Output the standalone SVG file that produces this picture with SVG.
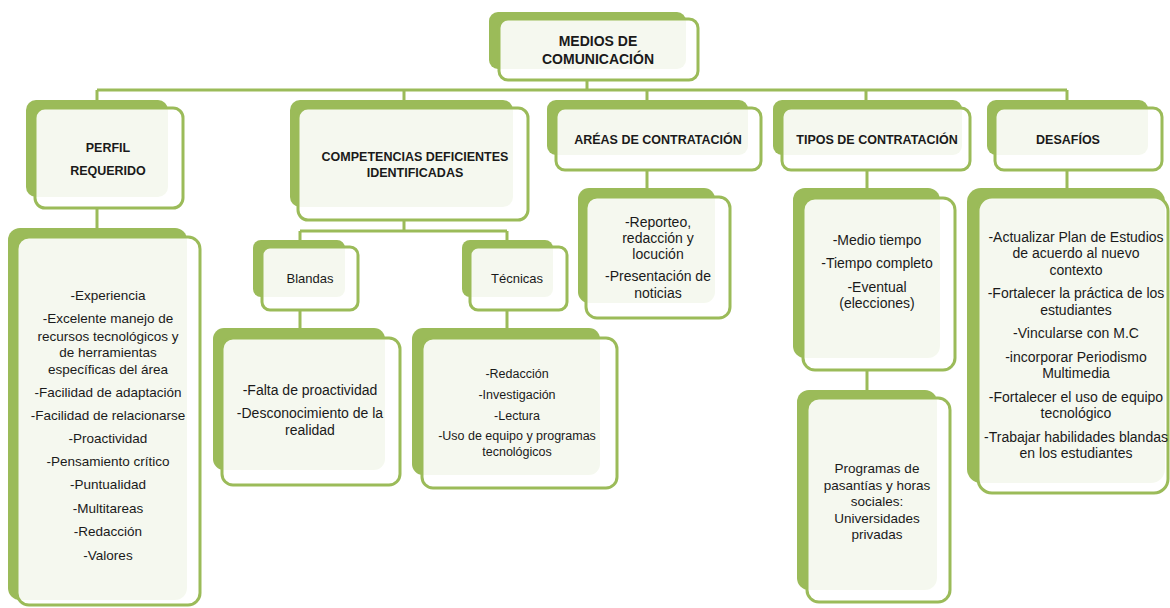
<svg xmlns="http://www.w3.org/2000/svg" width="1170" height="608" viewBox="0 0 1170 608">
<style>
.back{fill:#9bbb59}
.front{fill:#ffffff;fill-opacity:0.9;stroke:#9bbb59;stroke-width:3}
.con{stroke:#9bbb59;stroke-width:3;fill:none}
text{font-family:"Liberation Sans",Arial,sans-serif;fill:#1a1a1a;text-anchor:middle}
.h{font-weight:bold;font-size:12.5px}
.b{font-size:14px}
</style>
<rect width="1170" height="608" fill="#ffffff"/>
<g id="connectors">
<path class="con" d="M587 80V90M97 90H1067M97 90V108M404 90V108M647 90V108M866 90V108M1067 90V108"/>
<path class="con" d="M97 208V237"/>
<path class="con" d="M404 220V231M300 231H507M300 231V247M507 231V247M300 310V338M507 310V338"/>
<path class="con" d="M647 170V197M867 170V198M867 370V398M1067 170V197"/>
</g>
<g id="medios">
<rect class="back" x="489" y="12" width="197" height="57" rx="9"/>
<rect class="front" x="499" y="19" width="199" height="61" rx="9"/>
<text style="font-weight:bold;font-size:14px" x="598" y="46">MEDIOS DE</text>
<text style="font-weight:bold;font-size:14px" x="598" y="64">COMUNICACIÓN</text>
</g>
<g id="perfil">
<rect class="back" x="26" y="100" width="142" height="97" rx="10"/>
<rect class="front" x="35" y="108" width="148" height="100" rx="10"/>
<text class="h" x="108" y="152">PERFIL</text>
<text class="h" x="108" y="175">REQUERIDO</text>
</g>
<g id="perfil-detalle">
<rect class="back" x="8" y="228" width="179" height="372" rx="12"/>
<rect class="front" x="17" y="237" width="183" height="368" rx="12"/>
<g style="font-size:13.5px">
<text x="108" y="300">-Experiencia</text>
<text x="108" y="323">-Excelente manejo de</text>
<text x="108" y="341">recursos tecnológicos y</text>
<text x="108" y="357">de herramientas</text>
<text x="108" y="374">específicas del área</text>
<text x="108" y="397">-Facilidad de adaptación</text>
<text x="108" y="420">-Facilidad de relacionarse</text>
<text x="108" y="443">-Proactividad</text>
<text x="108" y="466">-Pensamiento crítico</text>
<text x="108" y="489">-Puntualidad</text>
<text x="108" y="513">-Multitareas</text>
<text x="108" y="536">-Redacción</text>
<text x="108" y="560">-Valores</text>
</g>
</g>
<g id="competencias">
<rect class="back" x="290" y="100" width="223" height="107" rx="10"/>
<rect class="front" x="298" y="108" width="230" height="112" rx="10"/>
<text class="h" x="415" y="161">COMPETENCIAS DEFICIENTES</text>
<text class="h" x="415" y="177">IDENTIFICADAS</text>
</g>
<g id="blandas">
<rect class="back" x="253" y="240" width="92" height="57" rx="8"/>
<rect class="front" x="262" y="247" width="96" height="63" rx="8"/>
<text style="font-size:13px" x="310" y="283">Blandas</text>
</g>
<g id="blandas-detalle">
<rect class="back" x="213" y="328" width="172" height="142" rx="11"/>
<rect class="front" x="222" y="338" width="178" height="147" rx="11"/>
<text class="b" x="310" y="395">-Falta de proactividad</text>
<text class="b" x="310" y="418">-Desconocimiento de la</text>
<text class="b" x="310" y="435">realidad</text>
</g>
<g id="tecnicas">
<rect class="back" x="462" y="240" width="91" height="57" rx="8"/>
<rect class="front" x="470" y="247" width="97" height="63" rx="8"/>
<text style="font-size:13px" x="517" y="283">Técnicas</text>
</g>
<g id="tecnicas-detalle">
<rect class="back" x="412" y="328" width="188" height="147" rx="11"/>
<rect class="front" x="422" y="338" width="195" height="150" rx="11"/>
<g style="font-size:12.5px">
<text x="517" y="378">-Redacción</text>
<text x="517" y="399">-Investigación</text>
<text x="517" y="420">-Lectura</text>
<text x="517" y="440">-Uso de equipo y programas</text>
<text x="517" y="456">tecnológicos</text>
</g>
</g>
<g id="areas">
<rect class="back" x="547" y="100" width="201" height="55" rx="9"/>
<rect class="front" x="556" y="108" width="205" height="62" rx="9"/>
<text class="h" x="658" y="144">ARÉAS DE CONTRATACIÓN</text>
</g>
<g id="areas-detalle">
<rect class="back" x="578" y="188" width="137" height="115" rx="11"/>
<rect class="front" x="586" y="197" width="144" height="121" rx="11"/>
<text class="b" x="658" y="227">-Reporteo,</text>
<text class="b" x="658" y="243">redacción y</text>
<text class="b" x="658" y="259">locución</text>
<text class="b" x="658" y="281">-Presentación de</text>
<text class="b" x="658" y="298">noticias</text>
</g>
<g id="tipos">
<rect class="back" x="773" y="100" width="189" height="55" rx="9"/>
<rect class="front" x="782" y="108" width="188" height="62" rx="9"/>
<text class="h" x="877" y="144">TIPOS DE CONTRATACIÓN</text>
</g>
<g id="tipos-detalle">
<rect class="back" x="793" y="188" width="147" height="170" rx="12"/>
<rect class="front" x="803" y="198" width="152" height="172" rx="12"/>
<text class="b" x="877" y="245">-Medio tiempo</text>
<text class="b" x="877" y="268">-Tiempo completo</text>
<text class="b" x="877" y="292">-Eventual</text>
<text class="b" x="877" y="308">(elecciones)</text>
</g>
<g id="programas">
<rect class="back" x="797" y="390" width="140" height="200" rx="12"/>
<rect class="front" x="807" y="398" width="143" height="204" rx="12"/>
<g style="font-size:13.5px">
<text x="877" y="473">Programas de</text>
<text x="877" y="490">pasantías y horas</text>
<text x="877" y="506">sociales:</text>
<text x="877" y="523">Universidades</text>
<text x="877" y="539">privadas</text>
</g>
</g>
<g id="desafios">
<rect class="back" x="987" y="100" width="161" height="55" rx="9"/>
<rect class="front" x="995" y="108" width="167" height="62" rx="9"/>
<text class="h" x="1068" y="144">DESAFÍOS</text>
</g>
<g id="desafios-detalle">
<rect class="back" x="967" y="188" width="198" height="295" rx="14"/>
<rect class="front" x="978" y="197" width="190" height="296" rx="14"/>
<text class="b" x="1076" y="242">-Actualizar Plan de Estudios</text>
<text class="b" x="1076" y="258">de acuerdo al nuevo</text>
<text class="b" x="1076" y="275">contexto</text>
<text class="b" x="1076" y="298">-Fortalecer la práctica de los</text>
<text class="b" x="1076" y="315">estudiantes</text>
<text class="b" x="1076" y="338">-Vincularse con M.C</text>
<text class="b" x="1076" y="362">-incorporar Periodismo</text>
<text class="b" x="1076" y="378">Multimedia</text>
<text class="b" x="1076" y="402">-Fortalecer el uso de equipo</text>
<text class="b" x="1076" y="418">tecnológico</text>
<text class="b" x="1076" y="442">-Trabajar habilidades blandas</text>
<text class="b" x="1076" y="458">en los estudiantes</text>
</g>
</svg>
